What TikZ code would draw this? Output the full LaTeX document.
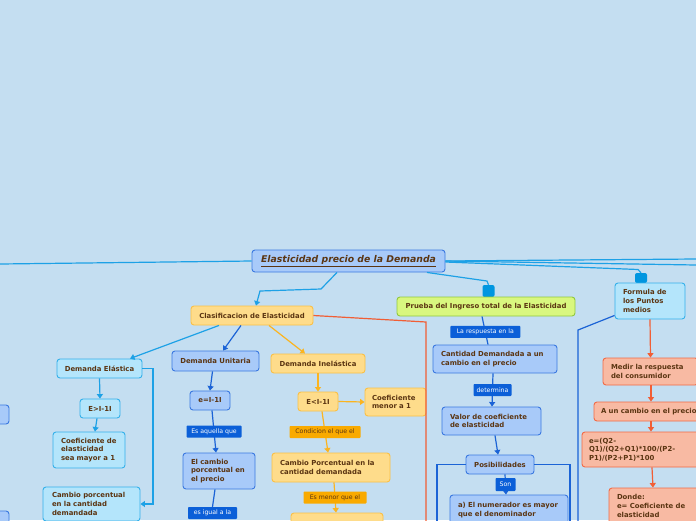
\documentclass[tikz,border=0pt]{standalone}
\usepackage{fontspec}
\setmainfont{DejaVu Sans}
\usetikzlibrary{arrows.meta}
\definecolor{bg}{HTML}{C4DEF1}
\definecolor{txt}{HTML}{5B3512}
\definecolor{cyf}{HTML}{B4E5FB}
\definecolor{cyd}{HTML}{34B0EA}
\definecolor{blf}{HTML}{A8CAF9}
\definecolor{bld}{HTML}{3A78E0}
\definecolor{ogf}{HTML}{FEDC8B}
\definecolor{ogd}{HTML}{FBC045}
\definecolor{grf}{HTML}{D9F77F}
\definecolor{grd}{HTML}{91C83E}
\definecolor{saf}{HTML}{F8BAA3}
\definecolor{sad}{HTML}{F26A45}
\definecolor{ccy}{HTML}{1DA1E6}
\definecolor{cbl}{HTML}{1B63D6}
\definecolor{cog}{HTML}{FBB420}
\definecolor{crd}{HTML}{F15E35}
\definecolor{tabc}{HTML}{0096E0}
\definecolor{lbf}{HTML}{0B5FD8}
\definecolor{lof}{HTML}{F9AA00}
\tikzset{
  nd/.style={draw, rounded corners=3pt, line width=0.9pt, text=txt,
    font=\bfseries\fontsize{6.9}{8.6}\selectfont, inner sep=0pt},
  cy/.style={nd, fill=cyf, draw=cyd},
  bl/.style={nd, fill=blf, draw=bld},
  og/.style={nd, fill=ogf, draw=ogd},
  sa/.style={nd, fill=saf, draw=sad},
  gr/.style={nd, fill=grf, draw=grd},
  lbb/.style={fill=lbf, text=white, font=\fontsize{6.2}{7}\selectfont, inner sep=0pt, rounded corners=0.8pt},
  lbo/.style={fill=lof, text=txt, font=\fontsize{6.2}{7}\selectfont, inner sep=0pt, rounded corners=0.8pt},
  tabn/.style={fill=tabc, rounded corners=2pt, inner sep=0pt, minimum width=12pt},
  tip/.style={-{Triangle[length=4.5pt,width=6pt]}},
  cc/.style={draw=ccy, line width=1.2pt},
  cb/.style={draw=cbl, line width=1.2pt},
  co/.style={draw=cog, line width=1.2pt},
  cr/.style={draw=crd, line width=1.2pt},
}
\begin{document}
\begin{tikzpicture}[x=1pt,y=-1pt]
\fill[bg] (0,0) rectangle (696,520);
\useasboundingbox (0,0) rectangle (696,520);
\clip (0,0) rectangle (696,520);

% off-canvas coordinates
\coordinate (offL) at (0,264);
\coordinate (offR1) at (696,259);
\coordinate (offR2) at (696,265);
\coordinate (offRed) at (426,530);
\coordinate (offFo) at (578,530);
\coordinate (frL) at (437,530);
\coordinate (frR) at (570,530);

% nodes
\node[bl, minimum width=193pt, minimum height=22pt,
  font=\bfseries\itshape\fontsize{9.3}{11}\selectfont] (title) at (348.5,261) {\underline{Elasticidad precio de la Demanda}};
\node[og, minimum width=122pt, minimum height=19pt] (clas) at (252,315.5) {Clasificacion de Elasticidad};
\node[tabn, minimum height=12pt] (ptab) at (488.5,291) {};
\node[gr, minimum width=178pt, minimum height=19pt] (pr) at (486,306.5) {Prueba del Ingreso total de la Elasticidad};
\node[tabn, minimum height=10pt] (ftab) at (641,278) {};
\node[cy, minimum width=70pt, minimum height=36pt, text width=54pt, align=left] (fo) at (650,301) {Formula de\\los Puntos\\medios};

% partial nodes on the left edge
\node[bl, minimum width=50pt, minimum height=19pt] (px1) at (-16,414.5) {};
\node[bl, minimum width=50pt, minimum height=19pt] (px2) at (-16,520.5) {};

% Demanda Elastica branch
\node[cy, minimum width=85pt, minimum height=19pt] (de) at (99.5,368.5) {Demanda Elástica};
\node[cy, minimum width=40pt, minimum height=19pt] (eg) at (100,408.5) {E>I-1I};
\node[cy, minimum width=72pt, minimum height=36pt, text width=56pt, align=left] (ce) at (89,450) {Coeficiente de\\elasticidad\\sea mayor a 1};
\node[cy, minimum width=97pt, minimum height=34pt, text width=79pt, align=left] (cp) at (91.5,504) {Cambio porcentual\\en la cantidad\\demandada};

% Demanda Unitaria branch
\node[bl, minimum width=87pt, minimum height=20pt] (du) at (215.5,361) {Demanda Unitaria};
\node[bl, minimum width=40pt, minimum height=19pt] (eu) at (210,400.5) {e=I-1I};
\node[bl, minimum width=72pt, minimum height=36pt, text width=56pt, align=left] (ec) at (219,471) {El cambio\\porcentual en\\el precio};
\node[lbb, minimum width=49pt, minimum height=12pt] (lig) at (212.5,513) {es igual a la};

% Demanda Inelastica branch
\node[og, minimum width=94pt, minimum height=19pt] (di) at (318,363.5) {Demanda Inelástica};
\node[og, minimum width=40pt, minimum height=19pt] (ei) at (318,401.5) {E<I-1I};
\node[og, minimum width=61pt, minimum height=28pt, text width=47pt, align=left] (cm) at (395.5,402) {Coeficiente\\menor a 1};
\node[og, minimum width=118pt, minimum height=29pt, text width=102pt, align=left] (cpo) at (331,467.5) {Cambio Porcentual en la\\cantidad demandada};
\node[og, minimum width=92pt, minimum height=28pt] (bo) at (337,527) {};

% Prueba branch
\node[bl, minimum width=124pt, minimum height=28pt, text width=108pt, align=left] (ca) at (495,359) {Cantidad Demandada a un\\cambio en el precio};
\node[bl, minimum width=99pt, minimum height=28pt, text width=83pt, align=left] (va) at (491.5,421) {Valor de coeficiente\\de elasticidad};
\node[bl, minimum width=68pt, minimum height=19pt] (po) at (500,464.5) {Posibilidades};
\node[bl, minimum width=118pt, minimum height=30pt, text width=102pt, align=left] (aa) at (509,510) {a) El numerador es mayor\\que el denominador};

% Formula branch
\node[sa, minimum width=95pt, minimum height=27pt, text width=79pt, align=left] (me) at (650.5,371.5) {Medir la respuesta\\del consumidor};
\node[sa, minimum width=114pt, minimum height=19pt, text width=100pt, align=left] (au) at (651,411.5) {A un cambio en el precio};
\node[sa, minimum width=118pt, minimum height=35pt, text width=104pt, align=left] (ef) at (641,449.5) {e=(Q2-\\Q1)/(Q2+Q1)*100/(P2-\\P1)/(P2+P1)*100};
\node[sa, minimum width=92pt, minimum height=36pt, text width=76pt, align=left] (dn) at (655,506) {Donde:\\e= Coeficiente de\\elasticidad};

% connectors from the title
\draw[cc] (title.west) -- (offL);
\draw[cc] (title.east) -- (offR1);
\draw[cc] (title.east) -- (offR2);
\draw[cc] ([yshift=-1pt]title.east) -- (638,269.5) -- (ftab.north);
\draw[cc] ([xshift=78.5pt]title.south) -- (487,281) -- (ptab.north);
\draw[cc, tip] ([xshift=-11.5pt]title.south) -- (321,289) -- (260,291) -- ([xshift=4pt]clas.north);

% from Clasificacion
\draw[cc, tip] ([xshift=-33pt]clas.south) -- ([xshift=30.5pt]de.north);
\draw[cb, tip] ([xshift=-11pt]clas.south) -- ([xshift=7.5pt]du.north);
\draw[co, tip] ([xshift=17pt]clas.south) -- ([xshift=-13pt]di.north);
\draw[cr] (clas.east) -- (426,322) -- (offRed);

% Elastica
\draw[cc, tip] (de.south) -- (eg.north);
\draw[cc, tip] ([xshift=-3pt]eg.south) -- ([xshift=6pt]ce.north);
\draw[cc, tip] (de.east) -- (153,368.5) -- (153,504) -- (cp.east);

% Unitaria
\draw[cb, tip] ([xshift=-3pt]du.south) -- (eu.north);
\draw[cb, tip] ([xshift=2pt]eu.south) -- node[lbb, minimum width=55pt, minimum height=12pt, pos=0.5] (lea) {Es aquella que} ([xshift=-3pt]ec.north);
\draw[cb] ([xshift=-4pt]ec.south) -- (lig.north);

% Inelastica
\draw[co, tip] (di.south) -- (ei.north);
\draw[co, tip] (ei.east) -- (cm.west);
\draw[co, tip] ([xshift=4pt]ei.south) -- node[lbo, minimum width=71pt, minimum height=12pt, pos=0.5] (lco) {Condicion el que el} ([xshift=-3pt]cpo.north);
\draw[co, tip] ([xshift=3pt]cpo.south) -- node[lbo, minimum width=63pt, minimum height=12pt, pos=0.5] (lme) {Es menor que el} ([xshift=-1pt]bo.north);

% Prueba
\draw[cb] ([xshift=-4pt]pr.south) -- node[lbb, minimum width=70pt, minimum height=12pt, pos=0.55] (lre) {La respuesta en la} ([xshift=-7pt]ca.north);
\draw[cb, tip] ([xshift=-2pt]ca.south) -- node[lbb, minimum width=38pt, minimum height=12pt, pos=0.5] (ldt) {determina} ([xshift=0.5pt]va.north);
\draw[cb, tip] ([xshift=3.5pt]va.south) -- ([xshift=-2pt]po.north);
\draw[cb, tip] ([xshift=5pt]po.south) -- node[lbb, minimum width=20pt, minimum height=13pt, pos=0.5] (lso) {Son} ([xshift=-3pt]aa.north);
\draw[cb] (po.west) -- (437,464.5) -- (frL);
\draw[cb] (po.east) -- (570,464.5) -- (frR);

% Formula
\draw[cb] ([yshift=4pt]fo.south west) -- (578,330) -- (offFo);
\draw[cr, tip] (fo.south) -- (me.north);
\draw[cr, tip] ([xshift=0.5pt]me.south) -- (au.north);
\draw[cr, tip] (au.south) -- ([xshift=10pt]ef.north);
\draw[cr, tip] ([xshift=11pt]ef.south) -- ([xshift=-2pt]dn.north);
\end{tikzpicture}
\end{document}
